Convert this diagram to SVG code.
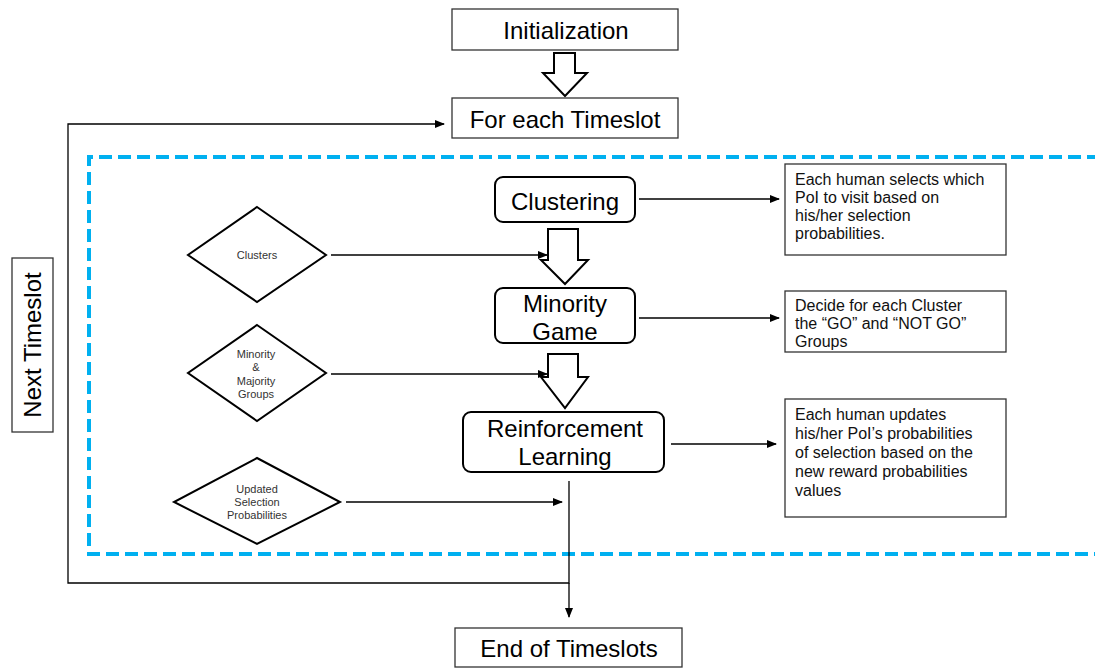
<svg xmlns="http://www.w3.org/2000/svg" width="1095" height="669" viewBox="0 0 1095 669">
<defs>
<marker id="ah" markerWidth="10" markerHeight="8" refX="9" refY="4" orient="auto" markerUnits="userSpaceOnUse">
<path d="M0,0 L10,4 L0,8 Z" fill="#000"/>
</marker>
<style>
.box{fill:#fff;stroke:#333;stroke-width:1.3}
.rbox{fill:#fff;stroke:#000;stroke-width:2}
.dia{fill:#fff;stroke:#000;stroke-width:2}
.blk{fill:#fff;stroke:#000;stroke-width:2;stroke-linejoin:miter}
.ln{fill:none;stroke:#000;stroke-width:1.3}
.big{font-family:"Liberation Sans",Arial,sans-serif;font-size:24px;fill:#000;text-anchor:middle}
.mid{font-family:"Liberation Sans",Arial,sans-serif;font-size:16px;fill:#111}
.sm{font-family:"Liberation Sans",Arial,sans-serif;font-size:11px;fill:#333;text-anchor:middle}
</style>
</defs>
<rect width="1095" height="669" fill="#fff"/>
<path d="M1100,157 H89 V554 H1100" fill="none" stroke="#00B0F0" stroke-width="4" stroke-dasharray="13 6"/>
<g id="connectors">
<polyline class="ln" points="569,481 569,583 68,583 68,124 444,124" marker-end="url(#ah)"/>
<line class="ln" x1="569" y1="583" x2="569" y2="617" marker-end="url(#ah)"/>
<line class="ln" x1="639" y1="199" x2="779" y2="199" marker-end="url(#ah)"/>
<line class="ln" x1="639" y1="318" x2="779" y2="318" marker-end="url(#ah)"/>
<line class="ln" x1="671" y1="444" x2="776" y2="444" marker-end="url(#ah)"/>
<line class="ln" x1="331" y1="255" x2="547" y2="255" marker-end="url(#ah)"/>
<line class="ln" x1="331" y1="374" x2="547" y2="374" marker-end="url(#ah)"/>
<line class="ln" x1="346" y1="502" x2="562" y2="502" marker-end="url(#ah)"/>
<path class="blk" d="M554,53 H575 V73 H587 L565,96 L543,73 H554 Z"/>
<path class="blk" d="M548,229 H578 V260 H588 L565,284 L541,260 H548 Z"/>
<path class="blk" d="M548,354 H578 V377 H588 L565,408 L541,377 H548 Z"/>
</g>
<g id="init"><rect class="box" x="452" y="9" width="226" height="41"/><text class="big" x="566" y="39">Initialization</text></g>
<g id="foreach"><rect class="box" x="452" y="98" width="226" height="40"/><text class="big" x="565" y="128">For each Timeslot</text></g>
<g id="clustering"><rect class="rbox" x="495" y="177" width="140" height="45" rx="8"/><text class="big" x="565" y="210">Clustering</text></g>
<g id="minority"><rect class="rbox" x="495" y="288" width="140" height="55" rx="8"/><text class="big" x="565" y="312">Minority</text><text class="big" x="565" y="340">Game</text></g>
<g id="rl"><rect class="rbox" x="463" y="412" width="201" height="60" rx="8"/><text class="big" x="565" y="437">Reinforcement</text><text class="big" x="565" y="465">Learning</text></g>
<g id="end"><rect class="box" x="455" y="628" width="227" height="39"/><text class="big" x="569" y="657">End of Timeslots</text></g>
<g id="next"><rect class="box" x="12" y="258" width="41" height="174"/><text class="big" transform="translate(41,345) rotate(-90)" x="0" y="0">Next Timeslot</text></g>
<g id="d-clusters"><polygon class="dia" points="257,207 326,255 257,302 188,255"/><text class="sm" x="257" y="259">Clusters</text></g>
<g id="d-groups"><polygon class="dia" points="257,325 326,373 257,421 188,373"/><text class="sm" x="256" y="358">Minority</text><text class="sm" x="256" y="371">&amp;</text><text class="sm" x="256" y="385">Majority</text><text class="sm" x="256" y="398">Groups</text></g>
<g id="d-updated"><polygon class="dia" points="257,458 340,502 257,544 174,502"/><text class="sm" x="257" y="493">Updated</text><text class="sm" x="257" y="506">Selection</text><text class="sm" x="257" y="519">Probabilities</text></g>
<g id="t1"><rect class="box" x="785" y="164" width="221" height="91"/><text class="mid" x="795" y="185">Each human selects which</text><text class="mid" x="795" y="203">PoI to visit based on</text><text class="mid" x="795" y="221">his/her selection</text><text class="mid" x="795" y="239">probabilities.</text></g>
<g id="t2"><rect class="box" x="785" y="291" width="221" height="61"/><text class="mid" x="795" y="311">Decide for each Cluster</text><text class="mid" x="795" y="329">the “GO” and “NOT GO”</text><text class="mid" x="795" y="347">Groups</text></g>
<g id="t3"><rect class="box" x="785" y="399" width="221" height="118"/><text class="mid" x="795" y="420">Each human updates</text><text class="mid" x="795" y="439">his/her PoI’s probabilities</text><text class="mid" x="795" y="458">of selection based on the</text><text class="mid" x="795" y="477">new reward probabilities</text><text class="mid" x="795" y="496">values</text></g>
</svg>
